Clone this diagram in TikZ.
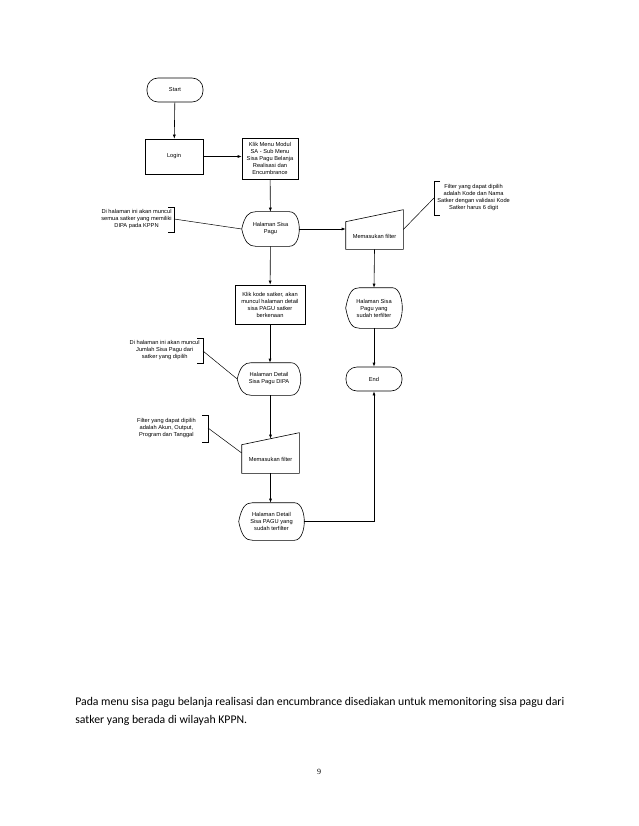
\documentclass[tikz,border=0pt]{standalone}
\usepackage{fontspec}
\setmainfont{Liberation Sans}
\newfontfamily\bodyfont{Carlito}
\newfontfamily\numfont{Liberation Serif}
\usetikzlibrary{arrows.meta,calc}
\begin{document}
\begin{tikzpicture}[x=1pt,y=1pt,
  line width=0.6pt,
  every node/.style={font=\fontsize{5.7}{7}\selectfont, align=center, inner sep=0pt},
  term/.style={draw, rounded corners=11pt, minimum width=56pt, minimum height=24pt},
  dispbox/.style={minimum width=60pt, minimum height=36pt},
  manbox/.style={minimum width=57pt, minimum height=39pt},
  note/.style={align=center},
  arr/.style={-{Latex[length=4pt,width=3pt]}},
  plain/.style={line width=0.5pt}
]
\useasboundingbox (0,0) rectangle (638,-826);
\fill[white] (0,0) rectangle (638,-826);

% nodes
\node[term] (start) at (175,-90) {Start};
\node[draw, minimum width=58pt, minimum height=35pt] (login) at (174,-156.5) {Login};
\node[draw, minimum width=56pt, minimum height=41pt] (klik) at (270,-158.5) {Klik Menu Modul\\SA - Sub Menu\\Sisa Pagu Belanja\\Realisasi dan\\Encumbrance};
\node[dispbox, minimum width=57pt, minimum height=34pt] (hsp) at (270.5,-229) {Halaman Sisa\\Pagu};
\node[manbox] (f1) at (374.5,-229.5) {};
\node (f1t) at (374.5,-236) {Memasukan filter};
\node[dispbox, minimum width=56pt, minimum height=40pt] (hspt) at (374,-308) {Halaman Sisa\\Pagu yang\\sudah terfilter};
\node[term] (end) at (374,-379) {End};
\node[draw, minimum width=70pt, minimum height=39pt] (kks) at (270,-304.5) {Klik kode satker, akan\\muncul halaman detail\\sisa PAGU satker\\berkenaan};
\node[dispbox, minimum width=63pt, minimum height=32pt] (hdd) at (269,-379) {Halaman Detail\\Sisa Pagu DIPA};
\node[manbox, minimum height=40pt] (f2) at (270.5,-453) {};
\node (f2t) at (270.5,-459) {Memasukan filter};
\node[dispbox, minimum width=65pt, minimum height=37pt] (hddt) at (271.5,-521.5) {Halaman Detail\\Sisa PAGU yang\\sudah terfilter};

% display shapes
\foreach \n in {hsp,hspt,hdd,hddt}{
  \draw (\n.west) .. controls ([xshift=3pt,yshift=-4pt]\n.north west) and ([xshift=7pt]\n.north west) .. ([xshift=14pt]\n.north west)
    -- ([xshift=-10pt]\n.north east) .. controls ([xshift=-2pt]\n.north east) and ([yshift=6pt]\n.east) .. (\n.east)
    .. controls ([yshift=-6pt]\n.east) and ([xshift=-2pt]\n.south east) .. ([xshift=-10pt]\n.south east)
    -- ([xshift=14pt]\n.south west) .. controls ([xshift=7pt]\n.south west) and ([xshift=3pt,yshift=4pt]\n.south west) .. (\n.west);
}
% manual input shapes
\draw (f1.south west) -- (f1.south east) -- (f1.north east) -- ([yshift=-12pt]f1.north west) -- cycle;
\draw (f2.south west) -- (f2.south east) -- (f2.north east) -- ([yshift=-12pt]f2.north west) -- cycle;

% annotations
\node[note, anchor=east] (n1) at (172,-219.5) {Di halaman ini akan muncul\\semua satker yang memiliki\\DIPA pada KPPN};
\coordinate (b1) at (174,-219);
\draw[plain] (168,-207) -- (174,-207) -- (174,-232) -- (168,-232);
\node[note, anchor=west] (n2) at (437,-198) {Filter yang dapat dipilih\\adalah Kode dan Nama\\Satker dengan validasi Kode\\Satker harus 6 digit};
\coordinate (b2) at (434,-198);
\draw[plain] (440,-181) -- (434,-181) -- (434,-215) -- (440,-215);
\node[note, anchor=east] (n3) at (200,-350.5) {Di halaman ini akan muncul\\Jumlah Sisa Pagu dari\\satker yang dipilih};
\coordinate (b3) at (203,-351);
\draw[plain] (197,-338) -- (203,-338) -- (203,-363) -- (197,-363);
\node[note, anchor=east] (n4) at (196,-428.5) {Filter yang dapat dipilih\\adalah Akun, Output,\\Program dan Tanggal};
\coordinate (b4) at (208,-428);
\draw[plain] (202,-415) -- (208,-415) -- (208,-442) -- (202,-442);

\draw[plain] (b1) -- (hsp.west);
\draw[plain] (b2) -- (f1.east);
\draw[plain] (b3) -- (hdd.west);
\draw[plain] (b4) -- (f2.west);

% connectors
\draw[arr] (start) -- (login);
\draw[arr] (login.east) -- (klik.west |- login.east);
\draw[arr] (klik) -- (hsp);
\draw[arr] (hsp.east) -- (f1.west |- hsp.east);
\draw[arr] (f1.south) -- (hspt.north);
\draw[arr] (hspt) -- (end);
\draw[arr] (hsp) -- (kks);
\draw[arr] (kks.south) -- (kks.south |- hdd.north);
\draw[arr] (hdd.south -| f2) -- ([yshift=-6pt]f2.north);
\draw[arr] (f2.south) -- (f2.south |- hddt.north);
\draw[arr] (hddt.east) -| (end.south);

% text
\node[anchor=base west, align=left, font=\bodyfont\fontsize{11.75}{18}\selectfont] (para) at (75,-723) {Pada menu sisa pagu belanja realisasi dan encumbrance disediakan untuk memonitoring sisa pagu dari\\satker yang berada di wilayah KPPN.};
\node[font=\numfont\fontsize{8}{9}\selectfont] (pg) at (319,-772) {9};
\end{tikzpicture}
\end{document}
